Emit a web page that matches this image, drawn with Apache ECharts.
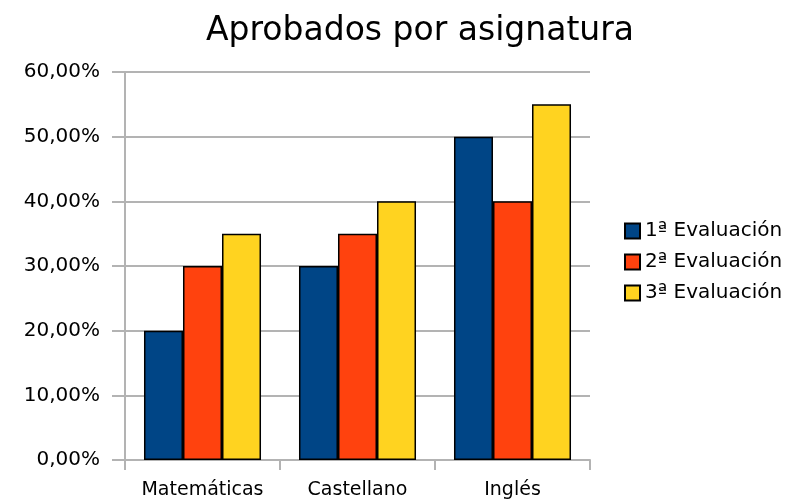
<!DOCTYPE html>
<html><head><meta charset="utf-8">
<script src="https://cdn.jsdelivr.net/npm/echarts@6/dist/echarts.min.js"></script>
<style>html,body{margin:0;padding:0;background:#fff}#c{width:798px;height:502px}</style>
</head><body><div id="c"></div>
<script>
const categories = ['Matemáticas', 'Castellano', 'Inglés'];
const seriesNames = ['1ª Evaluación', '2ª Evaluación', '3ª Evaluación'];
const eval1 = [20, 30, 50];
const eval2 = [30, 35, 40];
const eval3 = [35, 40, 55];
const colors = ['#004586', '#ff420e', '#ffd320'];
const font = '"DejaVu Sans", "Liberation Sans", sans-serif';
const chart = echarts.init(document.getElementById('c'));
const data = [eval1, eval2, eval3];
chart.setOption({
  animation: false,
  title: { text: 'Aprobados por asignatura', left: 415, textAlign: 'center', top: 10,
    textStyle: { fontFamily: font, fontSize: 33, fontWeight: 'normal', color: '#000' } },
  legend: { orient: 'vertical', left: 619, top: 216, itemGap: 11, itemWidth: 15, itemHeight: 15,
    icon: 'rect', textStyle: { fontFamily: font, fontSize: 20, color: '#000', padding: [0, 0, 0, 0] },
    data: seriesNames },
  grid: { left: 125, right: 208, top: 72, bottom: 42 },
  xAxis: { type: 'category', data: categories,
    axisLine: { lineStyle: { color: '#b3b3b3', width: 2 } },
    axisTick: { show: true, interval: 0, length: 10, lineStyle: { color: '#b3b3b3', width: 2 } },
    axisLabel: { interval: 0, fontFamily: font, fontSize: 19, color: '#000', margin: 21 } },
  yAxis: { type: 'value', min: 0, max: 60, interval: 10,
    axisLine: { show: true, lineStyle: { color: '#b3b3b3', width: 2 } },
    axisTick: { show: true, length: 13, lineStyle: { color: '#b3b3b3', width: 2 } },
    splitLine: { lineStyle: { color: '#b3b3b3', width: 2 } },
    axisLabel: { fontFamily: font, fontSize: 20, color: '#000', margin: 25,
      formatter: v => v.toFixed(2).replace('.', ',') + '%' } },
  series: seriesNames.map((n, i) => ({
    name: n, type: 'bar', data: data[i], barGap: '0%', barCategoryGap: '24.5%',
    itemStyle: { color: colors[i], borderColor: '#000', borderWidth: 1.5 }
  }))
});
</script></body></html>
